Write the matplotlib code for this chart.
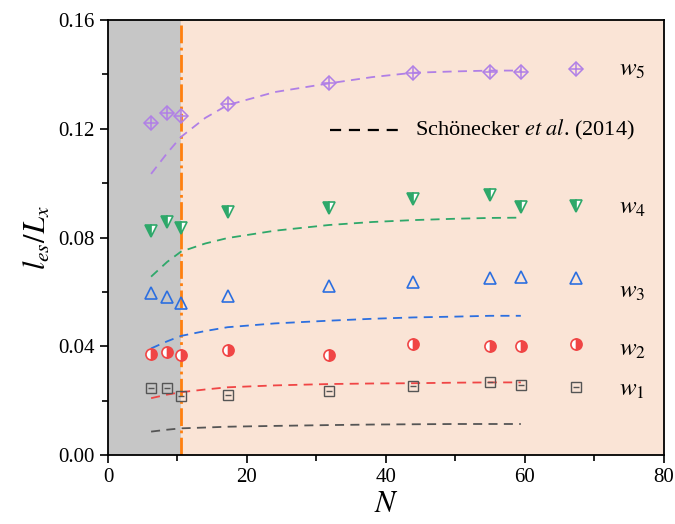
import matplotlib
matplotlib.use("Agg")
import matplotlib.pyplot as plt

plt.rcParams['font.family'] = 'Liberation Serif'
plt.rcParams['mathtext.fontset'] = 'stix'

# measured points (same N for every series)
n_meas = [6.2, 8.5, 10.5, 17.2, 31.8, 43.9, 55.0, 59.4, 67.3]
w1 = [0.0245, 0.0248, 0.0218, 0.0221, 0.0237, 0.0255, 0.0267, 0.0257, 0.0249]
w2 = [0.0372, 0.0380, 0.0368, 0.0386, 0.0368, 0.0408, 0.0401, 0.0402, 0.0407]
w3 = [0.0595, 0.0582, 0.0558, 0.0585, 0.0623, 0.0637, 0.0650, 0.0654, 0.0650]
w4 = [0.0824, 0.0858, 0.0836, 0.0895, 0.0910, 0.0942, 0.0956, 0.0913, 0.0917]
w5 = [0.1222, 0.1257, 0.1247, 0.1290, 0.1367, 0.1404, 0.1410, 0.1410, 0.1420]

# Schönecker et al. (2014) curves
n_fit = [6.2, 8.5, 10.5, 14.0, 17.2, 24.0, 31.8, 38.0, 43.9, 50.0, 55.0, 59.4]
f1 = [0.0086, 0.0093, 0.0098, 0.0101, 0.0104, 0.0107, 0.0110, 0.0112, 0.0113, 0.0114, 0.0114, 0.0114]
f2 = [0.0209, 0.0222, 0.0231, 0.0241, 0.0249, 0.0256, 0.0261, 0.0263, 0.0264, 0.0266, 0.0267, 0.0267]
f3 = [0.0392, 0.0418, 0.0438, 0.0456, 0.0470, 0.0484, 0.0494, 0.0501, 0.0506, 0.0509, 0.0512, 0.0512]
f4 = [0.0656, 0.0710, 0.0748, 0.0778, 0.0798, 0.0825, 0.0846, 0.0857, 0.0864, 0.0869, 0.0872, 0.0873]
f5 = [0.1034, 0.1110, 0.1170, 0.1240, 0.1287, 0.1335, 0.1367, 0.1390, 0.1406, 0.1411, 0.1414, 0.1414]

n_crit = 10.5

fig = plt.figure(figsize=(6.75, 5.24), dpi=100)
ax = fig.add_axes([0.16, 0.1317, 0.8237, 0.8301])

ax.axvspan(0, n_crit, color='#c6c6c6', zorder=0)
ax.axvspan(n_crit, 80, color='#fae4d6', zorder=0)
ax.axvline(n_crit, color='#ff7f0e', lw=2, ls='-.', zorder=1)

cols = ['#555555', '#f04545', '#2c6fe0', '#2ea86a', '#b07fe6']
for f, c in zip([f1, f2, f3, f4, f5], cols):
    ax.plot(n_fit, f, ls='--', dashes=(5, 3.5), color=c, lw=1.3, zorder=2)

ms = 7
# w1: square with bar
ax.plot(n_meas, w1, 's', ms=ms, mfc='none', mec=cols[0], mew=1, zorder=3)
ax.plot(n_meas, w1, '_', ms=ms-2, mec=cols[0], mew=1, zorder=3)
# w2: half-filled circle
ax.plot(n_meas, w2, 'o', ms=ms+1, fillstyle='right', color=cols[1],
        markerfacecoloralt='white', mec=cols[1], mew=1.2, zorder=3)
# w3: open triangle
ax.plot(n_meas, w3, '^', ms=ms+2, mfc='none', mec=cols[2], mew=1.2, zorder=3)
# w4: down triangle
ax.plot(n_meas, w4, 'v', ms=ms+2, fillstyle='left', color=cols[3],
        markerfacecoloralt='white', mec=cols[3], mew=1.2, zorder=3)
# w5: diamond with cross
ax.plot(n_meas, w5, 'D', ms=ms, mfc='none', mec=cols[4], mew=1.1, zorder=3)
ax.plot(n_meas, w5, '+', ms=ms+1, mec=cols[4], mew=1.1, zorder=3)

labels = ['$w_1$', '$w_2$', '$w_3$', '$w_4$', '$w_5$']
label_y = [0.0240, 0.0385, 0.0600, 0.0910, 0.1415]
for lab, yy in zip(labels, label_y):
    ax.text(73.5, yy, lab, fontsize=18, va='center', ha='left')

# legend entry
ax.plot([32, 42.5], [0.1195, 0.1195], ls='--', dashes=(5, 3.5), color='black', lw=1.6)
ax.text(44.2, 0.1195, 'Schönecker $\\it{et\\ al}$. (2014)', fontsize=16, va='center')

ax.set_xlim(0, 80)
ax.set_ylim(0, 0.16)
ax.set_xticks([0, 20, 40, 60, 80])
ax.set_xticks([10, 30, 50, 70], minor=True)
ax.set_yticks([0.00, 0.04, 0.08, 0.12, 0.16])
ax.set_yticks([0.02, 0.06, 0.10, 0.14], minor=True)
ax.set_yticklabels(['0.00', '0.04', '0.08', '0.12', '0.16'])
ax.tick_params(which='both', direction='out', labelsize=15, width=1.2)
ax.tick_params(which='major', length=6)
ax.tick_params(which='minor', length=4)
for s in ax.spines.values():
    s.set_linewidth(1.3)

ax.set_xlabel('$N$', fontsize=22, labelpad=2)
ax.set_ylabel('$l_{es}/L_x$', fontsize=22, labelpad=4)

fig.savefig('out.png', dpi=100)
